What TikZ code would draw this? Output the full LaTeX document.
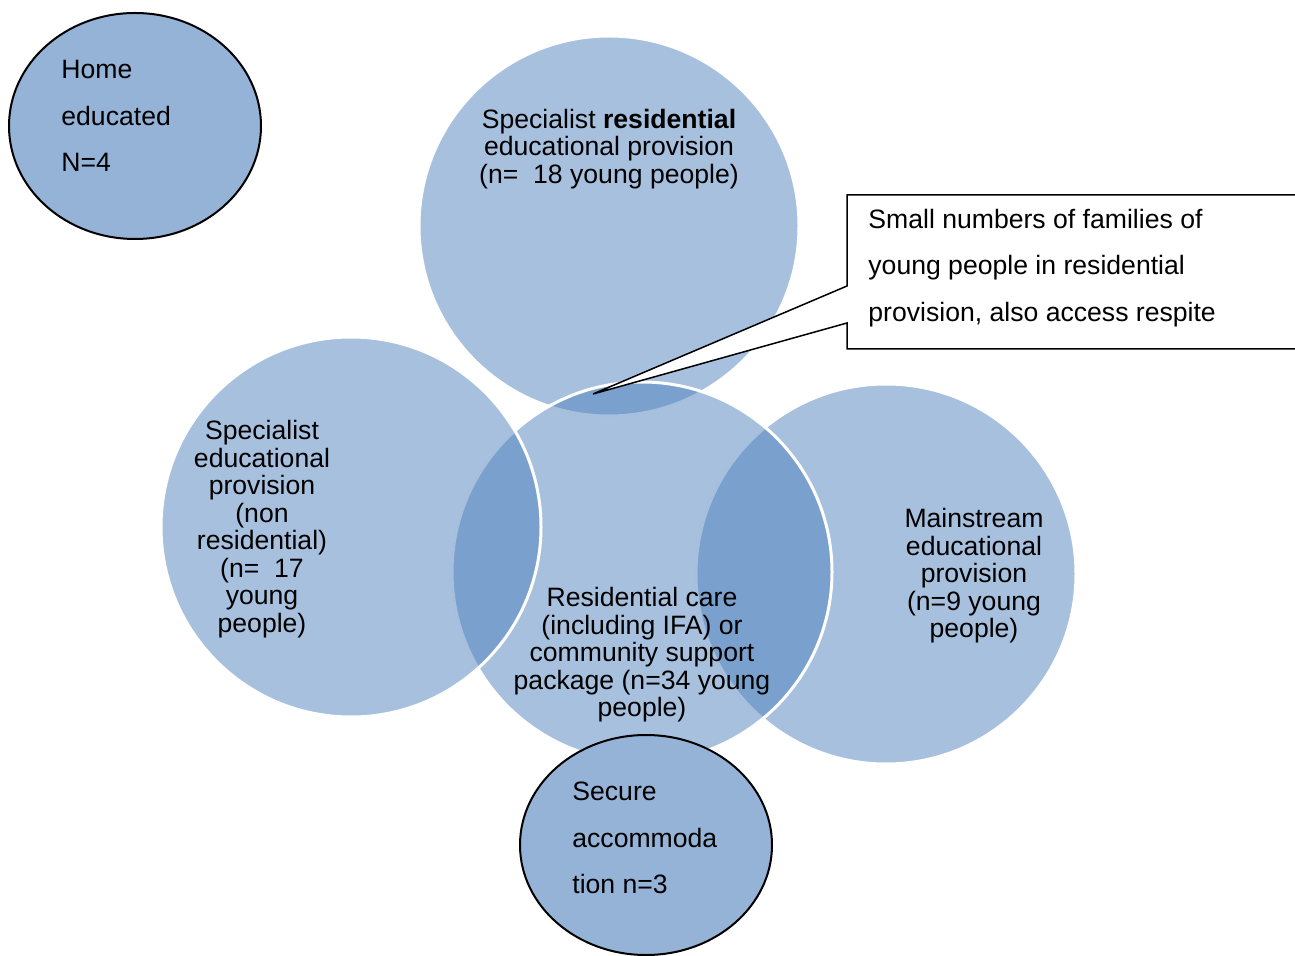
\documentclass[tikz,border=0pt]{standalone}
\usepackage{fontspec}
\setmainfont{Liberation Sans}
\usetikzlibrary{shapes.geometric}
\definecolor{vennblue}{HTML}{4F81BD}
\definecolor{ovalblue}{HTML}{95B3D7}

\begin{document}
\begin{tikzpicture}[x=0.5pt,y=-0.5pt,font=\fontsize{13.3}{13.75}\selectfont]
        \useasboundingbox (0,0) rectangle (1295,956);
        \begin{scope}[every node/.style={circle,minimum size=190pt,fill=vennblue,fill opacity=0.5,draw=white,line width=1.5pt}]
            \node (res)  at (609,226) {};
            \node (main) at (886,574) {};
            \node (care) at (642,572) {};
            \node (spec) at (351,527) {};
        \end{scope}
        \begin{scope}[every node/.style={align=center,inner sep=0pt}]
            \node (res-txt)  at (609,149) {Specialist \textbf{residential}\\educational provision\\(n=~ 18 young people)};
            \node (spec-txt) at (262,529) {Specialist\\educational\\provision\\(non\\residential)\\(n=~ 17\\young\\people)};
            \node (care-txt) at (642,655) {Residential care\\(including IFA) or\\community support\\package (n=34 young\\people)};
            \node (main-txt) at (974,576) {Mainstream\\educational\\provision\\(n=9 young\\people)};
        \end{scope}
        \begin{scope}[every node/.style={ellipse,draw,fill=ovalblue,line width=1pt,minimum width=126pt}]
            \node[minimum height=113pt] (home)   at (135,126) {};
            \node[minimum height=110pt] (secure) at (646,845) {};
        \end{scope}
        \coordinate (tip) at (593,394);
        \draw[fill=white,line width=0.75pt] (1300,195) -- (847,195) -- (847,286) -- (tip)
            -- (847,323) -- (847,349) -- (1300,349);
        \begin{scope}[every node/.style={anchor=west,align=left,inner sep=0pt,font=\fontsize{13.3}{23.25}\selectfont}]
            \node (home-txt)   at (61,116)  {Home\\educated\\N=4};
            \node (secure-txt) at (572,838) {Secure\\accommoda\\tion n=3};
            \node (note-txt)   at (868,268) {Small numbers of families of\\young people in residential\\provision, also access respite};
        \end{scope}
    \end{tikzpicture}
\end{document}
